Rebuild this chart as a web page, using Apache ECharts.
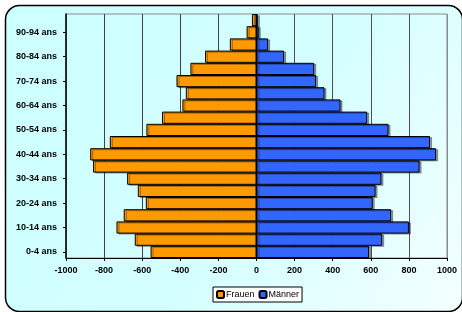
<!DOCTYPE html>
<html><head><meta charset="utf-8">
<script src="https://cdn.jsdelivr.net/npm/echarts@6/dist/echarts.min.js"></script>
<style>html,body{margin:0;padding:0;background:#fff}#c{width:462px;height:312px}</style>
</head><body><div id="c"></div>
<script>
var categories = ['0-4 ans','5-9 ans','10-14 ans','15-19 ans','20-24 ans','25-29 ans','30-34 ans','35-39 ans','40-44 ans','45-49 ans','50-54 ans','55-59 ans','60-64 ans','65-69 ans','70-74 ans','75-79 ans','80-84 ans','85-89 ans','90-94 ans','95-99 ans'];
var frauen = [-556,-639,-735,-697,-581,-623,-679,-858,-873,-770,-578,-496,-389,-371,-420,-347,-270,-140,-52,-24];
var maenner = [591,660,800,707,610,625,656,856,943,911,693,581,441,357,313,303,145,61,12,6];
var xTicks = {min:-1000, max:1000, interval:200};

var chart = echarts.init(document.getElementById('c'), null, {renderer:'canvas'});
var font = 'Liberation Sans, Arial, sans-serif';
var barStyle = function(c){ return {color:c, borderColor:'#000', borderWidth:1, shadowColor:'rgba(0,0,0,0.35)', shadowOffsetX:2, shadowOffsetY:1, shadowBlur:0}; };
chart.setOption({
  animation:false,
  graphic:[{type:'rect', z:-10, silent:true,
    shape:{x:5.5,y:5.5,width:457,height:306,r:14},
    style:{fill:{type:'linear',x:0,y:0,x2:1,y2:1,colorStops:[{offset:0,color:'#ccffff'},{offset:0.55,color:'#d4ffff'},{offset:1,color:'#f4ffff'}]}, stroke:'#000', lineWidth:1.5}}],
  grid:{left:66, right:15, top:14, bottom:54, show:true, borderColor:'#8a8a8a', borderWidth:1, backgroundColor:'transparent'},
  legend:{left:213, top:287, padding:[3,3,3,3], itemWidth:7, itemHeight:7, itemGap:4,
    borderColor:'#000', borderWidth:1, backgroundColor:'#fff',
    textStyle:{fontFamily:font, fontSize:9, color:'#000', padding:[0,0,0,-3]},
    itemStyle:{shadowOffsetX:0, shadowOffsetY:0, shadowColor:'transparent'},
    data:['Frauen','Männer']},
  xAxis:{type:'value', min:xTicks.min, max:xTicks.max, interval:xTicks.interval,
    axisLine:{show:true, onZero:false, lineStyle:{color:'#000', width:1}},
    axisTick:{show:true, length:3, lineStyle:{color:'#000'}},
    axisLabel:{fontFamily:font, fontSize:9, fontWeight:'bold', color:'#000', margin:8, formatter:function(v){return String(v);}},
    splitLine:{show:true, lineStyle:{color:['#8a8a8a','#404040','#404040','#404040','#404040','#000','#505050','#505050','#505050','#505050','#8a8a8a'], width:1}}},
  yAxis:[
    {type:'category', data:categories, position:'left', boundaryGap:true,
     axisLine:{show:false}, axisTick:{show:false},
     axisLabel:{interval:1, fontFamily:font, fontSize:9, fontWeight:'bold', color:'#000', margin:9}},
    {type:'category', data:categories, position:'left', boundaryGap:true,
     axisLine:{show:true, onZero:true, lineStyle:{color:'#000', width:1.5}},
     axisTick:{show:true, alignWithLabel:true, length:3, lineStyle:{color:'#000'}},
     axisLabel:{show:false}}
  ],
  series:[
    {name:'Frauen', type:'bar', data:frauen, barGap:'-100%', barCategoryGap:'0%', itemStyle:barStyle('#ff9900')},
    {name:'Männer', type:'bar', data:maenner, barGap:'-100%', barCategoryGap:'0%', itemStyle:barStyle('#3366ff')}
  ]
});
</script></body></html>
